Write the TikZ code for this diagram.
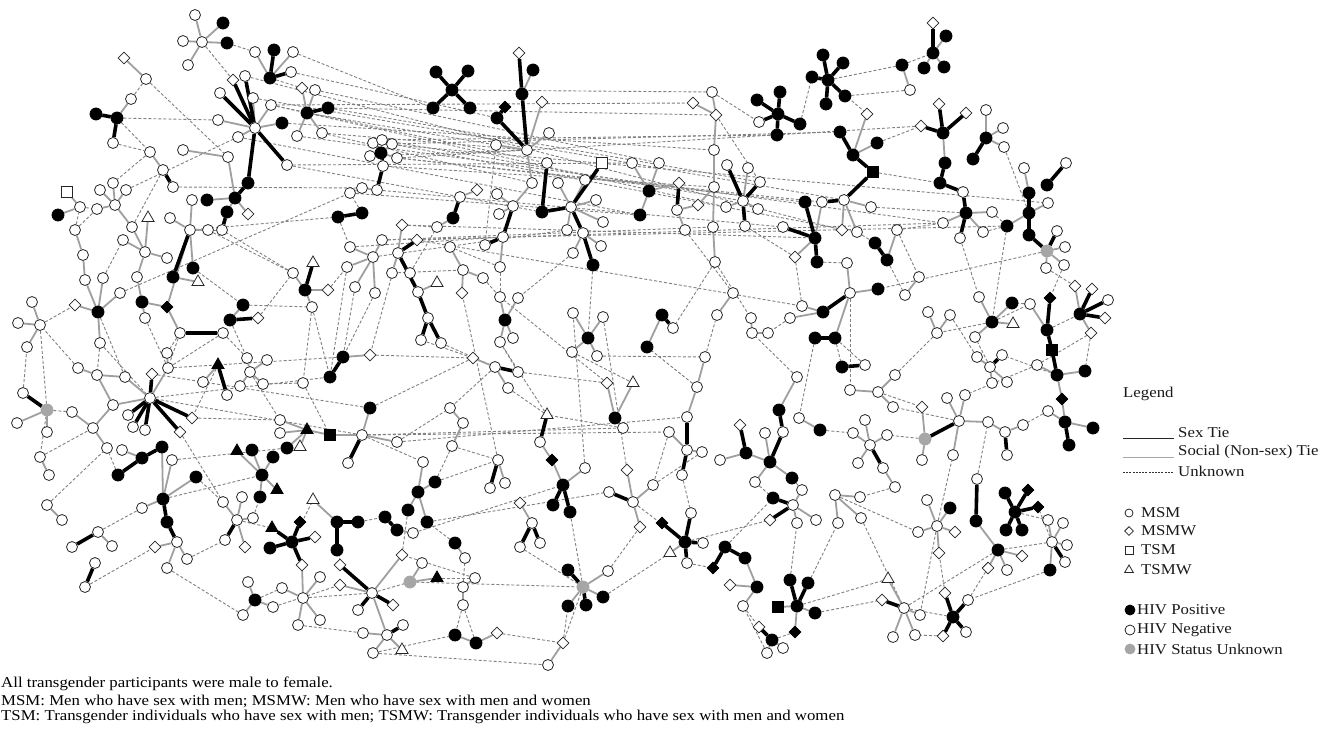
\documentclass[tikz,border=0pt]{standalone}
\usepackage{fontspec}
\setmainfont{Liberation Serif}[FakeStretch=1.12]
\usetikzlibrary{shapes.geometric}
\pgfdeclarelayer{bg}
\pgfdeclarelayer{ties}
\pgfsetlayers{bg,ties,main}
\tikzset{
  actor/.style={inner sep=0pt,line width=0.8pt,draw=black!85},
  msm/.style={actor,circle,minimum size=11pt,fill=white},
  msmB/.style={actor,circle,minimum size=12pt,fill=black,draw=black},
  msmG/.style={actor,circle,minimum size=12pt,fill=gray!70,draw=gray!70},
  msmw/.style={actor,diamond,minimum size=12pt,fill=white},
  msmwB/.style={actor,diamond,minimum size=12pt,fill=black,draw=black},
  tsm/.style={actor,rectangle,minimum size=11pt,fill=white},
  tsmB/.style={actor,rectangle,minimum size=11pt,fill=black,draw=black},
  tsmw/.style={actor,regular polygon,regular polygon sides=3,minimum size=14pt,fill=white},
  tsmwB/.style={actor,regular polygon,regular polygon sides=3,minimum size=14pt,fill=black,draw=black},
  sextie/.style={line width=3.6pt,black},
  soctie/.style={line width=1.8pt,gray!75},
  unktie/.style={line width=0.9pt,black!50,dash pattern=on 3pt off 2pt},
  lgtext/.style={anchor=west,inner sep=0pt,font=\fontsize{15}{18}\selectfont,text=black!90},
  captext/.style={anchor=west,inner sep=0pt,font=\fontsize{15}{18}\selectfont,text=black}
}
\begin{document}
\begin{tikzpicture}[x=1pt,y=-1pt]
\useasboundingbox (0,0) rectangle (1342,737);
\foreach \n/\x/\y/\s in {
A0/202/42/msm, A1/195/15/msm, A2/183/41/msm, A3/188/65/msm, A4/223/23/msmB, A5/227/43/msmB,
B0/146/79/msm, B1/124/58/msmw,
C0/117/118/msmB, C1/96/114/msmB, C2/131/99/msm, C3/113/143/msm,
D0/270/78/msmB, D1/255/52/msm, D2/274/50/msmB, D3/293/52/msm, D4/291/72/msm,
E0/255/128/msm, E1/220/93/msm, E2/233/80/msmw, E3/245/76/msm, E4/218/120/msm, E5/238/137/msm, E6/253/98/msm, E7/271/105/msm, E8/287/165/msm, E9/248/183/msmB, E10/282/123/msmB,
EE0/235/198/msmB, EE1/207/200/msmB, EE2/227/212/msmB, EE3/248/214/msmw, EE4/222/230/msm,
F0/307/113/msmB, F1/302/88/msmw, F2/315/90/msm, F3/328/108/msmB, F4/322/133/msm, F5/297/136/msm,
G0/383/166/msm, G1/373/143/msm, G2/382/140/msm, G3/392/144/msm, G4/397/158/msm, G5/370/156/msm, G6/381/153/msmB, G7/377/190/msm, G8/362/188/msm, G9/350/193/msm,
H0/190/230/msm, H1/192/200/msm, H2/170/218/msm, H3/208/230/msm, H4/173/277/msmB, H5/193/268/msmB, H6/198/282/tsmw,
I0/115/205/msm, I1/100/190/msm, I2/113/183/msm, I3/126/190/msm, I4/97/209/msm, I5/132/227/msm, I6/145/252/msm, I7/148/218/tsmw, I8/167/258/msm, I9/123/240/msm, I10/137/277/msm,
J0/80/207/msm, J1/67/192/tsm, J2/58/215/msmB,
K0/163/170/msm, K1/150/152/msm, K2/173/187/msm, K3/183/150/msm, K4/228/157/msm,
L0/98/312/msmB, L1/75/230/msm, L2/83/255/msm, L3/85/280/msm, L4/103/278/msm, L5/75/305/msmw, L6/120/293/msm, L7/100/343/msm,
M0/142/302/msmB, M2/145/318/msm, M3/167/307/msmwB,
N0/40/325/msm, N1/32/302/msm, N2/18/323/msm, N3/27/347/msm,
O0/230/320/msmB, O1/243/305/msmB, O2/258/318/msmw,
P0/180/333/msm, P1/223/333/msm,
Q0/338/217/msmB, Q1/362/213/msmB,
R0/305/290/msmB, R1/313/263/tsmw, R2/293/273/msm, R3/328/290/msmw, R4/312/307/msm,
S0/398/253/msm, S1/402/225/msmw, S2/417/240/msmw, S3/392/273/msm, S4/410/273/msm, S5/418/292/msm, S6/428/318/msm, S7/421/340/msm, S8/441/343/msm, S9/437/283/tsmw,
T0/373/257/msm, T1/350/247/msm, T2/347/267/msm, T3/355/287/msm, T4/375/293/msm, T5/382/240/msm,
W0/452/90/msmB, W1/436/72/msmB, W2/468/71/msmB, W3/433/108/msmB, W4/470/108/msmB,
X0/527/150/msm, X1/519/53/msmw, X2/522/94/msmB, X3/533/70/msmB, X4/505/107/msmwB, X5/497/118/msmB, X6/542/102/msmw, X7/549/133/msm, X8/496/145/msm,
Y0/532/183/msm, Y1/513/206/msm, Y2/503/237/msm, Y3/500/267/msm, Y4/485/245/msm, Y5/497/194/msm, Y6/499/214/msm,
Z0/542/212/msmB, Z1/547/163/msm, Z2/571/207/msm, Z3/558/183/msm, Z4/585/180/msm, Z5/602/163/tsm, Z6/596/200/msm, Z7/567/230/msm, Z8/583/233/msm, Z9/593/265/msmB, Z10/573/253/msm, Z11/603/222/msm, Z12/601/246/msm,
AA0/649/191/msmB, AA1/632/163/msm, AA2/659/163/msm, AA3/640/215/msmB, AA4/679/183/msmw, AA5/677/210/msm, AA6/685/230/msm, AA7/698/205/msmw,
AB0/714/187/msm, AB1/714/150/msm, AB2/716/115/msmw, AB3/712/92/msm, AB4/693/103/msmw, AB5/713/227/msm, AB6/715/262/msm,
AC0/743/201/msm, AC1/727/165/msm, AC2/748/168/msm, AC3/760/182/msm, AC4/758/209/msm, AC5/745/226/msm, AC6/726/207/msm,
AD0/778/114/msmB, AD1/757/100/msmB, AD2/780/92/msmB, AD3/800/124/msmB, AD4/777/135/msmB, AD5/759/122/msm,
AE0/828/80/msmB, AE1/823/55/msmB, AE2/843/63/msmB, AE3/812/77/msmB, AE4/845/96/msmB, AE5/826/104/msmB,
AF0/853/155/msmB, AF1/840/132/msmB, AF2/867/114/msmw, AF3/877/143/msmB, AF4/873/172/tsmB, AF5/844/200/msm, AF6/822/202/msm, AF7/871/207/msm, AF8/842/230/msmw, AF9/857/232/msm,
AG0/815/238/msmB, AG1/805/202/msmB, AG2/817/262/msmB, AG3/783/227/msm, AG4/795/257/msmw,
AH0/887/260/msmB, AH1/875/243/msmB, AH2/897/230/msm,
AI0/850/293/msm, AI1/847/263/msm, AI2/878/289/msmB, AI3/835/338/msmB, AI4/815/338/msmB, AI5/823/312/msmB, AI6/802/306/msm, AI7/790/318/msm,
AJ0/463/270/msm, AJ1/450/247/msm, AJ2/483/278/msm, AJ3/462/293/msmw,
AK0/453/218/msmB, AK1/460/197/msm, AK2/437/227/msm, AK3/477/190/msmw,
AL0/505/320/msmB, AL1/500/297/msm, AL2/518/298/msm, AL3/500/342/msm, AL4/513/338/msm,
AM0/588/338/msmB, AM1/573/313/msm, AM2/603/317/msm, AM3/572/352/msm, AM4/597/356/msm,
AN0/662/315/msmB, AN1/673/328/msm, AN2/647/347/msmB,
AO0/717/315/msm, AO1/733/293/msm,
AP0/752/333/msm, AP1/768/333/msm, AP2/751/318/msm,
AQ0/933/53/msmB, AQ1/933/23/msmw, AQ2/946/36/msmB, AQ3/924/68/msmB, AQ4/944/67/msmB, AQ5/902/65/msmB, AQ6/910/90/msm,
AR0/943/133/msmB, AR1/939/104/msmw, AR2/921/126/msmw, AR3/966/113/msmw, AR4/945/163/msmB, AR5/940/183/msmB, AR6/963/192/msm, AR7/966/213/msmB, AR8/992/212/msm, AR9/943/223/msm, AR10/960/238/msm, AR11/983/232/msm,
AS0/986/138/msmB, AS1/986/110/msm, AS2/1003/128/msm, AS3/1004/147/msm, AS4/973/159/msmB,
AT0/1029/213/msmB, AT1/1024/168/msm, AT2/1029/193/msmB, AT3/1007/226/msmB, AT4/1029/235/msmB, AT5/1048/203/msm, AT6/1047/251/msmG, AT7/1057/231/msm, AT8/1065/247/msm, AT9/1064/265/msm, AT10/1046/268/msm, AT11/1047/185/msmB, AT12/1066/163/msm,
AU0/992/322/msmB, AU1/979/297/msm, AU2/1012/303/msmB, AU3/1013/324/tsmw, AU4/975/337/msm,
AV0/1047/330/msmB, AV1/1050/298/msmwB, AV2/1030/304/msm, AV3/1052/350/tsmB,
AW0/1080/314/msmB, AW1/1075/286/msmw, AW2/1092/289/msmw, AW3/1108/300/msm, AW4/1105/318/msmw, AW5/1091/333/msmw,
AX0/937/333/msm, AX1/928/312/msm, AX2/950/315/msm, AX3/919/277/msm, AX4/905/295/msm,
BA0/150/398/msm, BA1/152/374/msmw, BA2/192/418/msmw, BA3/180/432/msmw, BA4/145/430/msm, BA5/133/427/msm, BA6/128/415/msm, BA7/125/377/msm, BA9/168/368/msm, BA10/167/353/msm,
BB0/47/410/msmG, BB1/23/393/msm, BB2/17/423/msm, BB3/47/432/msm,
BC0/97/375/msm, BC1/78/368/msm, BC3/113/405/msm, BC4/93/428/msm, BC5/107/448/msm, BC6/72/412/msm,
BD0/162/447/msmB, BD1/142/458/msmB, BD2/118/475/msmB, BD3/122/450/msm,
BE0/163/499/msmB, BE1/172/460/msm, BE2/196/477/msmB, BE3/142/508/msm, BE4/167/522/msmB, BE5/177/542/msm, BE6/155/547/msmw, BE7/187/559/msm, BE8/167/568/msm,
BF1/40/457/msm, BF2/49/475/msm, BF3/47/505/msm, BF4/62/520/msm, BF5/98/532/msm, BF6/72/547/msm, BF7/112/546/msm, BF8/95/563/msm, BF9/85/587/msm,
BG0/237/520/msm, BG1/223/502/msm, BG2/242/497/msm, BG3/253/518/msm, BG4/225/540/msm, BG5/245/547/msmw,
BH0/262/475/msmB, BH1/237/451/tsmwB, BH2/252/450/msmB, BH3/273/457/msmB, BH4/260/497/msmB, BH5/277/490/tsmwB, BH6/287/448/msmB, BH7/307/430/tsmwB, BH8/300/447/tsmw, BH9/280/420/msm, BH10/280/433/msm, BH11/330/435/tsmB, BH12/362/435/msm, BH13/370/408/msmB, BH14/397/442/msm, BH15/348/463/msm,
BI0/292/542/msmB, BI1/272/528/tsmwB, BI2/270/548/msmB, BI3/300/522/msmwB, BI4/315/537/msmw, BI5/302/565/msmw, BI6/303/598/msm, BI7/282/588/msm, BI8/320/577/msm, BI9/320/620/msm, BI10/298/625/msm,
BJ0/255/600/msmB, BJ1/248/582/msm, BJ2/273/607/msm, BJ3/243/615/msm,
BK0/337/522/msmB, BK1/358/522/msmB, BK2/337/550/msmB, BK3/313/500/tsmw,
BL0/372/593/msm, BL1/340/565/msmw, BL2/402/555/msmw, BL3/340/585/msmw, BL4/393/605/msmw, BL5/358/610/msm, BL6/387/635/msm, BL7/363/633/msm, BL8/403/625/msm, BL9/402/650/tsmw, BL10/373/653/msm,
BM0/385/517/msmB, BM1/397/530/msmB, BM2/413/533/msm,
BN0/418/492/msmB, BN1/435/482/msmB, BN2/408/510/msmB, BN3/427/522/msmB, BN4/423/462/msm,
BO0/410/582/msmG, BO1/437/578/tsmwB, BO2/422/563/msm,
BP0/343/357/msmB, BP1/330/377/msmB, BP2/370/355/msmw,
BQ0/218/365/tsmwB, BQ1/227/395/msm, BQ2/203/382/msm,
BR0/250/372/msm, BR1/240/386/msm, BR2/247/358/msm, BR3/263/384/msm, BR4/267/360/msm,
BS0/303/383/msm,
CA0/615/418/msmB, CA1/607/383/msmw, CA2/633/383/tsmw, CA3/623/428/msm,
CB0/697/387/msm, CB1/705/357/msm, CB2/687/417/msm, CB3/687/450/msm, CB4/669/432/msm, CB5/702/452/msm, CB6/682/475/msm,
CC0/746/453/msmB, CC1/740/425/msmw, CC2/720/460/msm, CC3/770/462/msmB, CC4/783/432/msm, CC5/779/410/msmB, CC6/797/377/msm, CC7/755/482/msm, CC8/792/478/msmB, CC9/765/433/msm,
CD0/820/430/msmB, CD1/799/418/msm,
CE0/793/505/msm, CE1/773/498/msmB, CE2/802/490/msm, CE3/770/520/msmw, CE4/797/523/msm, CE5/816/520/msm,
CF0/835/495/msm, CF1/860/497/msm, CF2/838/523/msm, CF3/861/518/msm,
CG0/878/392/msm, CG1/895/375/msm, CG2/850/390/msm, CG3/893/407/msm,
CH0/865/365/msm, CH1/842/367/msmB,
CI0/633/502/msm, CI1/609/492/msm, CI2/627/470/msmw, CI3/653/485/msm, CI4/640/527/msmw,
CJ0/563/485/msmB, CJ1/585/468/msm, CJ2/553/505/msmB, CJ3/570/512/msmB, CJ4/552/460/msmwB,
CK0/547/415/tsmw, CK1/540/442/msm,
CL0/498/460/msm, CL1/490/488/msm, CL2/505/483/msm,
CM0/532/523/msm, CM1/520/503/msmw, CM2/520/547/msm, CM3/540/543/msm,
CN0/455/543/msmB, CN1/465/558/msm,
CO0/583/587/msmG, CO1/568/570/msmB, CO2/608/571/msm, CO3/568/606/msmB, CO4/586/605/msmB, CO5/603/597/msmB,
CP0/685/542/msmB, CP1/662/523/msmwB, CP2/670/553/tsmw, CP3/691/513/msm, CP4/703/543/msm, CP5/687/563/msm,
CQ0/725/547/msmB, CQ1/745/558/msmB, CQ2/713/568/msmwB, CQ3/757/587/msmB, CQ4/730/585/msmw, CQ5/743/606/msm,
CR0/797/606/msmB, CR1/790/580/msmB, CR2/808/583/msmB, CR3/778/607/tsmB, CR4/815/613/msmB, CR5/795/632/msmwB,
CS0/772/640/msmB, CS1/759/627/msmw, CS2/767/653/msm, CS3/783/648/msm,
CT0/455/635/msmB, CT1/476/643/msmB, CT2/497/633/msmw,
CU0/563/643/msmw, CU1/548/665/msm,
CV0/463/587/msm, CV1/475/578/msm, CV2/463/605/msm,
CX0/870/445/msm, CX1/853/433/msm, CX2/887/435/msm, CX3/858/463/msm, CX4/883/468/msm, CX5/865/420/msm, CX6/895/487/msm,
CY0/495/367/msm, CY1/473/358/msmw, CY2/518/372/msm, CY3/508/388/msm,
CZ0/463/423/msm, CZ1/452/446/msm, CZ2/450/408/msm,
DA0/1057/375/msmB, DA2/1085/371/msmB, DA3/1037/365/msm, DA4/1062/399/msmwB, DA5/1065/422/msmB, DA6/1093/428/msmB, DA7/1069/445/msmB, DA8/1048/411/msm,
DB0/959/421/msm, DB1/925/439/msmG, DB2/922/407/msmw, DB3/922/460/msm, DB4/947/398/msm, DB5/965/395/msm, DB6/953/455/msm, DB7/988/422/msm, DB8/1005/432/msm, DB9/1023/425/msm, DB10/1007/455/msm,
DC0/977/479/msm, DC1/976/521/msmB, DC2/998/550/msmB, DC3/1022/556/msmw, DC4/1007/570/msm, DC5/988/568/msmw,
DD0/1015/512/msmB, DD1/1005/493/msmB, DD2/1028/490/msmwB, DD3/1038/507/msmwB, DD4/1006/530/msmB, DD5/1022/530/msmB,
DE0/1052/542/msm, DE1/1048/520/msm, DE2/1063/523/msm, DE3/1067/545/msm, DE4/1065/562/msm, DE5/1050/570/msmB,
DF0/937/526/msm, DF1/927/500/msm, DF2/950/508/msmB, DF3/918/532/msm, DF4/955/532/msmw, DF5/939/553/msmw,
DG0/953/617/msmB, DG1/945/593/msmw, DG2/968/600/msm, DG3/943/636/msmw, DG4/966/632/msm,
DH0/904/608/msm, DH1/888/579/tsmw, DH2/882/600/msmw, DH3/893/637/msm, DH4/915/635/msm, DH5/920/615/msm,
DI0/990/367/msm, DI1/977/357/msm, DI2/1002/355/msm, DI3/992/383/msm, DI4/1007/382/msm}
  \node[\s] (\n) at (\x,\y) {};
\begin{pgfonlayer}{bg}
\fill[white] (0,0) rectangle (1342,737);
\end{pgfonlayer}
\begin{pgfonlayer}{ties}
\foreach \a/\b in {
A0/E2, B0/K4, C0/E4, C0/K1, F0/X8, F4/X0, W0/AB3, AE0/AQ5, AQ5/AQ0, AD3/AE3, AE0/AF2, AB3/AD5, AB2/AC3, AF3/AR2, AF4/AR5, AF7/AR7, AS3/AT0, AR8/AT3, AH2/AX3, AT6/AI2, AT3/AU0, AU0/AX0, AU0/AV2, AV0/AW0,
E7/Z1, E8/Z0, E8/AA1, G0/AB0, G2/AC0, G4/AF6, F4/Y0, G7/AG3, G9/AA3, E7/AC6, G3/AF9, G5/X0, S1/AG0, S2/AI6, T5/AB5, T0/Z7, K2/G8, I3/E5, H0/Q0, Q1/G9, H3/R2, L1/J0, L0/BA7, N0/L5, N0/BB0, BB0/BC6, BB0/BF1, L7/BA0, P0/BA9,
BA0/BH12, BA2/BH9, BA0/BP1, BE0/BH0, BE1/BH6, BF5/BE3, BF3/BC5, BF1/BC4, BD2/BC5, BG0/BI1, BI0/BK3, BK0/BL1, BL0/BO0, BI6/BL0, BK1/BM0, BL2/BN2, BH12/BN4, BH12/CA3, BH12/CB4, BM2/CJ0, BN1/CL0, BN3/CI1, BO0/CO0, CO0/CJ3, CO0/CM2, CO0/CU0, CU0/CO3, CN0/BN3, CV1/BL2,
CP0/CI0, CP0/CE3, CQ0/CE1, CR0/CF2, CR0/DH1, CS0/CR5, CQ5/CS1, DH0/DG0, DH0/DC2, DH0/CF3, DF0/DH5, DF0/DB6, DC0/DB7, DC2/DE0, DE0/DD3, DB1/CX2, DB0/CG3, CG0/DB2, DA0/DI2, DA3/DB5, DI0/AU4, AX0/CG1, CH0/AI3, CC6/AP0, CB1/AO0, CB0/AN2, CA1/AL1, CK0/AL3, CL0/AJ3, CJ1/AM1, CI2/AM2,
Y3/AJ1, Y3/AL1, AB6/AP2, AB6/AN1, AC5/AG4, AA6/AO1, Z9/AM0, Z10/AL2, X8/Y4, S4/AK2, S0/BP2, T4/BP0, R4/BP1, O2/R2, P1/BA9, AI0/CG2, AH0/AX4, AG2/AI1, AI7/AP1, CD0/CX1, CC8/CE2, CF0/DF3, DG3/DH4, CR4/DH2, DD0/DE1, AW5/DA3,
E6/AF5, F3/AC3, F2/AA2, E3/AF8, F5/AR9, G1/AT5, E10/AB1, G4/AG1, T1/Y2, S3/AJ0, BR0/BH9, BQ0/BA2, BS0/BH11, BS0/BR3, CY0/CZ2, CZ0/BN1, CY2/CA1, CZ1/CL0, CX6/CF1, DA8/DB9, AT10/AW1, AR11/AT3, AQ6/AE4,
I5/K0, J0/I4, L4/I9, BA9/M2, H5/O1, EE4/H3, Q0/T1, R3/T2, O1/R4, BA3/BG1, BE2/BG1, BG3/BH4, BJ0/BI7, BJ2/BL3, BL10/CU1, CT2/CU0, CT1/CV2, CV0/CN1, CO2/CI4, CO5/CP2, CP5/CQ2, CR1/CE4, BP2/CY1, CY3/CK0, BH14/CZ2, E5/AA3, L6/G9,
D0/F1, A5/D1, B0/C2, C3/K1, K1/I2, L1/I4, BB1/N3, BC1/N0, L7/BC0, P0/BA10, O0/BR2, P1/BR2, R4/BS0, R2/EE4, T3/BP0, T2/BP1, S7/CY1, S8/CY0, AK2/S1, AL3/CY2, AM3/CA2, AM4/CB1, AI3/CH1, AI4/CD1, AX2/DI1, AW5/DA2, AV2/AU2, AT9/AV1, AR10/AU1, AH2/AR9, AF9/AH1, AG4/AI6,
D3/W3, D4/X5, E7/AB4, F3/AB2, G2/AD4, G3/AF1, G4/AR2, T5/AT3, S2/AR9, BA1/BH13, BA9/BP0, BH13/CY1, BH14/CB2, CB4/CI3, CA3/CK0, BL10/CT0, BE8/BJ3, BE7/BG4, BF9/BE6, BI10/BL7, BO1/CV1, CV2/CT0, CS2/CQ5, DG1/DF5, DE5/DG2, DC5/DG2, AJ2/AL1, CC7/CE1, CB6/CP3, CI3/CB5}
  \draw[unktie] (\a) -- (\b);
\foreach \a/\b in {
A0/A1, A0/A2, A0/A3, A0/A4, A0/A5, B0/B1, C0/C2, D0/D1, D0/D3, E0/E4, E0/E5, E0/E6, E0/E7, E0/E10, EE0/EE1, EE0/EE2, EE0/EE3, F0/F1, F0/F2, F0/F4, F0/F5, G6/G1, G6/G2, G6/G3, G6/G4, G6/G5, G7/G8, G8/G9,
H0/H1, H0/H2, H0/H3, H0/H5, H4/H6, I0/I1, I0/I2, I0/I3, I0/I4, I0/I5, I5/I6, I6/I7, I6/I8, I6/I9, I6/I10, J0/J1, J0/J2, K0/K1, K3/K4, K4/EE0, L1/L2, L2/L3, L3/L0, L4/L0, L5/L0, L6/L0, L0/L7, M0/I10, M0/M2, M0/M3, H0/M3, M3/P0, N0/N1, N0/N2, N0/N3, O0/O1, R0/R2, R0/R3, R0/R4, S0/S1, S0/S3, S0/S4, S5/S9, T0/T1, T0/T2, T0/T3, T0/T4, T0/T5,
X2/X3, X6/X0, X7/X0, X8/X0, X0/Y0, Y0/Y1, Y2/Y3, Y1/Y5, Y1/Y6, Z2/Z3, Z2/Z4, Z2/Z6, Z2/Z7, Z8/Z10, Z2/Z11, Z8/Z12, AA0/AA1, AA0/AA2, AA0/AA3, AA0/AA4, AA5/AA6, AA5/AA7, AB0/AB1, AB1/AB2, AB2/AB3, AB2/AB4, AB0/AB5, AB5/AB6, AB0/AA7, AC0/AC2, AC0/AC4, AC0/AC6,
AF0/AF2, AF0/AF3, AF5/AF7, AF5/AF8, AF5/AF9, AG0/AG4, AG0/AF6, AH0/AH2, AI0/AI1, AI0/AI2, AI0/AI3, AI5/AI6, AI5/AI7, AJ0/AJ1, AJ0/AJ2, AJ0/AJ3, AK0/AK2, AK1/AK3, AL0/AL1, AL0/AL2, AL0/AL3, AL0/AL4, AM0/AM1, AM0/AM2, AM0/AM3, AM0/AM4, AN0/AN2, AO0/AO1, AP0/AP1, AP0/AP2,
AQ0/AQ2, AQ0/AQ3, AQ0/AQ4, AQ5/AQ6, AR0/AR4, AR7/AR8, AR7/AR9, AR7/AR11, AS0/AS1, AS0/AS2, AS0/AS3, AT1/AT2, AT0/AT3, AT0/AT5, AT6/AT8, AT6/AT9, AT6/AT10, AU0/AU1, AU0/AU2, AU0/AU3, AU0/AU4, AV0/AV2, AW0/AW1, AW0/AW5, AX0/AX1, AX0/AX2, AX3/AX4,
BA0/BA7, BA0/BA9, BA9/BA10, BA0/BC3, BB0/BB2, BB0/BB3, BC0/BC1, BC0/BA7, BC0/BC3, BC3/BC4, BC4/BC5, BC6/BC4, BD1/BD3, BD0/BE0, BE0/BE1, BE0/BE2, BE0/BE3, BE5/BE6, BE5/BE7, BE5/BE8, BF1/BF2, BF3/BF4, BF5/BF7, BG0/BG1, BG0/BG2, BG0/BG3, BG0/BG5,
BH0/BH1, BH0/BH2, BH0/BH3, BH0/BH4, BH0/BH5, BH6/BH7, BH7/BH9, BH7/BH10, BH7/BH8, BH7/BH11, BH11/BH12, BH12/BH13, BH12/BH14, BI5/BI6, BI6/BI7, BI6/BI8, BI6/BI9, BI6/BI10, BJ0/BJ1, BJ0/BJ2, BJ0/BJ3, BK0/BK3, BL0/BL2, BL0/BL3, BL0/BL6, BL6/BL7, BL6/BL9, BL6/BL10, BM1/BM2,
BN0/BN1, BN0/BN2, BN0/BN3, BN0/BN4, BO0/BO1, BO0/BO2, BP0/BP2, BQ0/BQ2, BR0/BR1, BR0/BR2, BR0/BR3, BR0/BR4, CA0/CA1, CA0/CA2, CA0/CA3, CB0/CB1, CB0/CB2, CB3/CB4, CB3/CB5, CC0/CC2, CC0/CC3, CC5/CC6, CC3/CC7, CC3/CC8, CC3/CC9, CD0/CD1, CE0/CE2, CE0/CE4, CE0/CE5, CF0/CF1, CF0/CF2, CF0/CF3, CG0/CG1, CG0/CG2, CG0/CG3,
CI0/CI2, CI0/CI3, CI0/CI4, CJ0/CJ1, CJ0/CJ4, CK1/CJ4, CL0/CL2, CM0/CM1, CN0/CN1, CO0/CO2, CO0/CO3, CO0/CO5, CP0/CP2, CQ1/CQ3, CQ3/CQ4, CQ3/CQ5, CR0/CR3, CR0/CR4, CR0/CR5, CS0/CS2, CS0/CS3, CT0/CT1, CT1/CT2, CU0/CU1, CV0/CV1, CV0/CV2, CX0/CX1, CX0/CX2, CX0/CX3, CX0/CX5, CX4/CX6, CY0/CY1, CY0/CY3, CZ0/CZ1, CZ0/CZ2,
DA0/DA2, DA0/DA3, DA0/DA4, DA4/DA5, DA5/DA6, DA5/DA8, DB1/DB2, DB1/DB3, DB0/DB4, DB0/DB5, DB0/DB6, DB0/DB7, DB7/DB8, DB8/DB9, DC1/DC2, DC2/DC3, DC2/DC4, DC2/DC5, DE0/DE1, DE0/DE2, DE0/DE3, DE0/DE5, DF0/DF1, DF0/DF2, DF0/DF3, DF0/DF4, DF0/DF5, DH0/DH1, DH0/DH3, DH0/DH4, DH0/DH5, DI0/DI1, DI0/DI3, DI0/DI4}
  \draw[soctie] (\a) -- (\b);
\foreach \a/\b in {
C0/C1, C0/C3, D0/D2, D0/D4, E0/E1, E0/E2, E0/E3, E0/E8, E0/E9, EE0/E9, EE2/EE4, F0/F3, G6/G0, G0/G7, H0/H4, K0/K2, O0/O2, P0/P1, Q0/Q1, R0/R1, S0/S2, S0/S5, S5/S6, S6/S7, S6/S8, W0/W1, W0/W2, W0/W3, W0/W4, X1/X2, X2/X0, X5/X0, X4/X5, Y1/Y2, Y2/Y4, Z0/Z1, Z0/Z2, Z2/Z5, Z2/Z8, Z8/Z9, AA4/AA5,
AC0/AC1, AC0/AC3, AC0/AC5, AD0/AD1, AD0/AD2, AD0/AD3, AD0/AD4, AD0/AD5, AE0/AE1, AE0/AE2, AE0/AE3, AE0/AE4, AE0/AE5, AF0/AF1, AF0/AF4, AF4/AF5, AF5/AF6, AG0/AG1, AG0/AG2, AG0/AG3, AH0/AH1, AI3/AI4, AI5/AI0, AK0/AK1, AN0/AN1, AQ0/AQ1,
AR0/AR1, AR0/AR2, AR0/AR3, AR4/AR5, AR5/AR6, AR6/AR7, AR7/AR10, AS0/AS4, AT2/AT0, AT0/AT4, AT4/AT6, AT6/AT7, AT11/AT12, AV0/AV1, AV0/AV3, AW0/AW2, AW0/AW3, AW0/AW4,
BA0/BA1, BA0/BA2, BA0/BA3, BA0/BA4, BA0/BA5, BA0/BA6, BB0/BB1, BD0/BD1, BD1/BD2, BE0/BE4, BE4/BE5, BF5/BF6, BF8/BF9, BG0/BG4, BH12/BH15, BI0/BI1, BI0/BI2, BI0/BI3, BI0/BI4, BI0/BI5, BK0/BK1, BK0/BK2, BL0/BL1, BL0/BL4, BL0/BL5, BL6/BL8, BM0/BM1, BP0/BP1, BQ0/BQ1,
CB2/CB3, CB3/CB6, CC0/CC1, CC3/CC4, CC4/CC5, CE0/CE1, CE0/CE3, CH0/CH1, CI0/CI1, CJ0/CJ2, CJ0/CJ3, CK0/CK1, CL0/CL1, CM0/CM2, CM0/CM3, CO0/CO1, CO0/CO4, CP0/CP1, CP0/CP3, CP0/CP4, CP0/CP5, CQ0/CQ1, CQ0/CQ2, CR0/CR1, CR0/CR2, CS0/CS1, CX0/CX4, CY0/CY2,
AV3/DA0, DA5/DA7, DB0/DB1, DB8/DB10, DC0/DC1, DD0/DD1, DD0/DD2, DD0/DD3, DD0/DD4, DD0/DD5, DE0/DE4, DG0/DG1, DG0/DG2, DG0/DG3, DG0/DG4, DH0/DH2, DI0/DI2}
  \draw[sextie] (\a) -- (\b);
\end{pgfonlayer}
\node[lgtext] (lghead) at (1123,394) {Legend};
\coordinate (sxa) at (1123,438);
\coordinate (sxb) at (1174,438);
\draw[line width=0.6pt,black!85] (sxa) -- (sxb);
\node[lgtext] (sxlab) at (1178,433) {Sex Tie};
\coordinate (soa) at (1123,457);
\coordinate (sob) at (1174,457);
\draw[line width=0.6pt,gray!70] (soa) -- (sob);
\node[lgtext] (solab) at (1178,452) {Social (Non-sex) Tie};
\coordinate (una) at (1123,472);
\coordinate (unb) at (1174,472);
\draw[line width=0.6pt,black!80,dash pattern=on 2pt off 1.2pt] (una) -- (unb);
\node[lgtext] (unlab) at (1178,471) {Unknown};
\node[msm,minimum size=8pt] (lgmsm) at (1129,513) {};
\node[lgtext] (lgmsmt) at (1141,513) {MSM};
\node[msmw,minimum size=9pt] (lgmsmw) at (1129,531) {};
\node[lgtext] (lgmsmwt) at (1141,531) {MSMW};
\node[tsm,minimum size=8pt] (lgtsm) at (1129,550) {};
\node[lgtext] (lgtsmt) at (1141,550) {TSM};
\node[tsmw,minimum size=10pt] (lgtsmw) at (1129,570) {};
\node[lgtext] (lgtsmwt) at (1141,570) {TSMW};
\node[msmB,minimum size=10pt] (lgpos) at (1130,610) {};
\node[lgtext] (lgpost) at (1137,610) {HIV Positive};
\node[msm,minimum size=10pt] (lgneg) at (1130,630) {};
\node[lgtext] (lgnegt) at (1137,630) {HIV Negative};
\node[msmG,minimum size=10pt] (lgunk) at (1130,649) {};
\node[lgtext] (lgunkt) at (1137,649) {HIV Status Unknown};
\node[captext] (cap1) at (1,684) {All transgender participants were male to female.};
\node[captext] (cap2) at (1,701) {MSM: Men who have sex with men; MSMW: Men who have sex with men and women};
\node[captext] (cap3) at (1,717) {TSM: Transgender individuals who have sex with men; TSMW: Transgender individuals who have sex with men and women};
\end{tikzpicture}
\end{document}
